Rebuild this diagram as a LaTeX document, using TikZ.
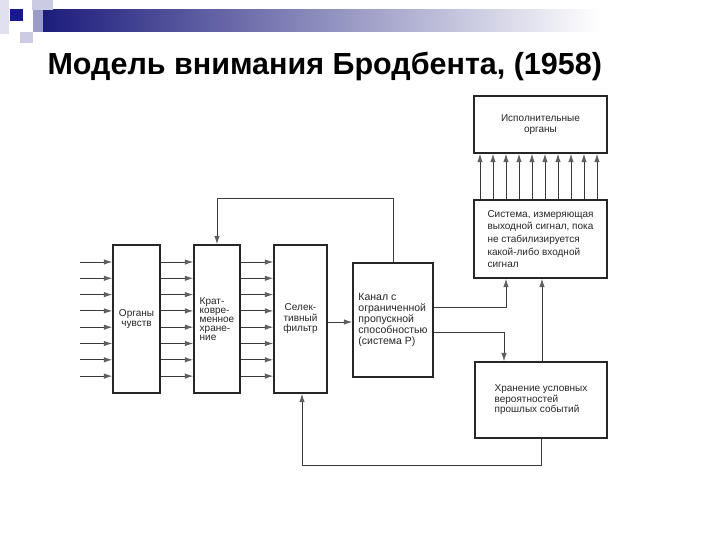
\documentclass[tikz,border=0pt]{standalone}
\usepackage{fontspec}
\setmainfont{Liberation Sans}
\usetikzlibrary{arrows.meta}
\definecolor{navy}{HTML}{1C1C7C}
\definecolor{lav}{HTML}{CBCBE3}
\definecolor{midlav}{HTML}{9C9CC9}
\definecolor{boxgray}{HTML}{262626}
\definecolor{linegray}{HTML}{3A3A3A}
\definecolor{tipgray}{HTML}{606060}
\begin{document}
\begin{tikzpicture}[x=1pt,y=-1pt,
    box/.style={draw=boxgray,line width=1.3pt,inner sep=0pt,
      font=\fontsize{10}{10.5}\selectfont,text=black!85},
    arr/.style={draw=linegray,line width=1pt,
      -{Latex[length=8.5pt,width=5.5pt,color=tipgray]}}]
    \useasboundingbox (0,0) rectangle (720,540);
    \fill[white] (0,0) rectangle (720,540);
    \fill[lav!60] (0,0) rectangle (9,34);
    \shade[left color=navy,right color=white] (43,10) rectangle (600,32);
    \fill[lav] (32,0) rectangle (53,10);
    \fill[midlav] (33,10) rectangle (43,32);
    \fill[navy!85!blue] (10,9) rectangle (23,21);
    \fill[lav] (20,32) rectangle (33,43);
    \node[anchor=west,font=\bfseries\fontsize{30.5}{33}\selectfont] (title) at (44,66)
      {Модель внимания Бродбента, (1958)};
    \node[box,minimum width=133,minimum height=57,align=center] (exec) at (540.5,124.5)
      {Исполнительные\\органы};
    \node[box,minimum width=133,minimum height=78,align=left,
      font=\fontsize{10}{12.7}\selectfont] (sys) at (540.5,239)
      {Система, измеряющая\\выходной сигнал, пока\\не стабилизируется\\какой-либо входной\\сигнал};
    \node[box,minimum width=47,minimum height=148,align=center] (organs) at (136.5,319)
      {Органы\\чувств};
    \node[box,minimum width=46,minimum height=148,align=left,
      font=\fontsize{10}{9}\selectfont] (stm) at (217,319)
      {Крат-\\ковре-\\менное\\хране-\\ние};
    \node[box,minimum width=53,minimum height=148,align=center] (filter) at (300.5,319)
      {Селек-\\тивный\\фильтр};
    \node[box,minimum width=80,minimum height=114,align=left,
      font=\fontsize{10.5}{11}\selectfont] (channel) at (393,320)
      {Канал с\\ограниченной\\пропускной\\способностью\\(система Р)};
    \node[box,minimum width=132,minimum height=76,align=left] (store) at (541,400)
      {Хранение условных\\вероятностей\\прошлых событий};
    \foreach \i in {0,...,7}{
      \pgfmathsetmacro\ry{262+16.3*\i}
      \coordinate (in\i) at (80,\ry);
      \draw[arr] (in\i) -- (organs.west |- in\i);
      \draw[arr] (organs.east |- in\i) -- (stm.west |- in\i);
      \draw[arr] (stm.east |- in\i) -- (filter.west |- in\i);
    }
    \foreach \i in {0,...,9}{
      \pgfmathsetmacro\ax{480+13*\i}
      \draw[arr] (sys.north -| \ax,0) -- (exec.south -| \ax,0);
    }
    \coordinate (fbk) at (217,199);
    \draw[arr] (channel.north) |- (fbk) -- (stm.north);
    \draw[arr] (filter.east |- 0,322) -- (channel.west |- 0,322);
    \draw[arr] (channel.east |- 0,307) -| (sys.south -| 506,0);
    \draw[arr] (channel.east |- 0,332) -| (store.north -| 504,0);
    \draw[arr] (store.north -| 542,0) -- (sys.south -| 542,0);
    \coordinate (loop) at (302,465);
    \draw[arr] (store.south -| 541,0) |- (loop) -- (filter.south -| 302,0);
\end{tikzpicture}
\end{document}
